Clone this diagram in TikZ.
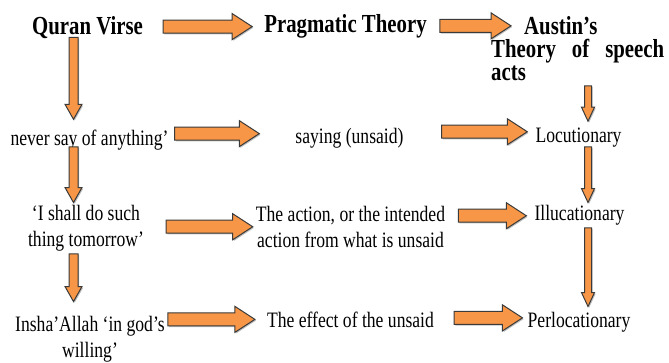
\documentclass[tikz,border=0pt]{standalone}
\usepackage{fontspec}
\setmainfont{Liberation Serif}[FakeStretch=0.8]
\usetikzlibrary{calc}
\definecolor{arrowfill}{HTML}{F79646}
\definecolor{arrowline}{HTML}{3A3A3A}
\tikzset{
  shafthw/.store in=\shafthw, headhw/.store in=\headhw, headlen/.store in=\headlen,
  shafthw=6.5pt, headhw=13pt, headlen=20pt,
  blockarrow/.style={fill=arrowfill, draw=arrowline, line width=1pt, line join=miter,
    preaction={fill=black!25, transform canvas={xshift=1.2pt,yshift=-1.2pt}},
    to path={($(\tikztotarget)!\headlen!(\tikztostart)$) coordinate (hb)
      ($(\tikztostart)!\shafthw!90:(\tikztotarget)$)
      -- ($(hb)!\shafthw!90:(\tikztotarget)$) -- ($(hb)!\headhw!90:(\tikztotarget)$)
      -- (\tikztotarget)
      -- ($(hb)!\headhw!-90:(\tikztotarget)$) -- ($(hb)!\shafthw!-90:(\tikztotarget)$)
      -- ($(\tikztostart)!\shafthw!-90:(\tikztotarget)$) -- cycle}},
  downarrow/.style={blockarrow, shafthw=4.5pt, headhw=8.5pt, headlen=15pt},
  thinarrow/.style={blockarrow, shafthw=3.5pt, headhw=6.5pt, headlen=14pt},
  heading/.style={font=\bfseries\fontsize{26}{23}\selectfont, inner sep=0pt, align=left},
  entry/.style={font=\fontsize{22}{26}\selectfont, inner sep=0pt, align=center}
}
\begin{document}
\begin{tikzpicture}[x=1pt, y=-1pt]
\useasboundingbox (0,0) rectangle (669,363);
% top row
\node[heading, anchor=base] (quran) at (87.5,35) {Quran Virse};
\node[heading, anchor=base] (prag) at (345.5,33) {Pragmatic Theory};
\node[heading, anchor=base west] (austin) at (491,81)
  {\hspace*{33pt}Austin’s\\\makebox[173pt][s]{Theory of speech}\\acts};
% the three columns (multi-line nodes sit on their last line)
\node[entry, anchor=base] (never) at (89.5,146) {never say of anything’};
\node[entry, anchor=base] (saying) at (349.5,144) {saying (unsaid)};
\node[entry, anchor=base] (locu) at (578.5,143) {Locutionary};
\node[entry, anchor=base] (ishall) at (86,247) {‘I shall do such\\thing tomorrow’};
\node[entry, anchor=base] (action) at (350.5,248) {The action, or the intended\\action from what is unsaid};
\node[entry, anchor=base] (illu) at (579.5,221) {Illucationary};
\node[entry, anchor=base] (insha) at (90,357) {Insha’Allah ‘in god’s\\willing’};
\node[entry, anchor=base] (effect) at (350.5,327) {The effect of the unsaid};
\node[entry, anchor=base] (perlo) at (579,327) {Perlocationary};
% across
\draw[blockarrow] ($(quran.east)+(20pt,1.5pt)$) to ($(quran.east -| prag.west)+(-12pt,1.5pt)$);
\draw[blockarrow] ($(prag.east)+(13pt,1pt)$) to ($(prag.east -| austin.west)+(20pt,1pt)$);
\draw[blockarrow] ($(never.east)+(6pt,7pt)$) to ($(never.east -| saying.west)+(-36pt,7pt)$);
\draw[blockarrow] ($(saying.east)+(38pt,7pt)$) to ($(saying.east -| locu.west)+(-8pt,7pt)$);
\draw[blockarrow] ($(ishall.east)+(22pt,2pt)$) to ($(ishall.east -| action.west)+(-3pt,2pt)$);
\draw[blockarrow] ($(action.east |- illu.west)+(13pt,0pt)$) to ($(illu.west)+(-8pt,0pt)$);
\draw[blockarrow] ($(insha.east |- effect.west)+(3pt,0pt)$) to ($(effect.west)+(-12pt,0pt)$);
\draw[blockarrow] ($(effect.east)+(20pt,1.5pt)$) to ($(effect.east -| perlo.west)+(-5pt,1.5pt)$);
% down
\draw[downarrow] ($(never.north |- quran.south)+(-16pt,2pt)$) to ($(never.north)+(-16pt,11pt)$);
\draw[downarrow] ($(never.south)+(-16pt,4pt)$) to ($(never.south |- ishall.north)+(-16pt,3pt)$);
\draw[downarrow] ($(never.south |- ishall.south)+(-16pt,-2pt)$) to ($(never.south |- insha.north)+(-16pt,14pt)$);
\draw[thinarrow] ($(locu.north |- austin.base)+(9.5pt,-5pt)$) to ($(locu.north)+(9.5pt,7pt)$);
\draw[thinarrow] ($(locu.south)+(9.5pt,1pt)$) to ($(locu.south |- illu.north)+(9.5pt,3pt)$);
\draw[thinarrow] ($(locu.south |- illu.south)+(9.5pt,-2pt)$) to ($(locu.south |- perlo.north)+(9.5pt,5pt)$);
\end{tikzpicture}
\end{document}
